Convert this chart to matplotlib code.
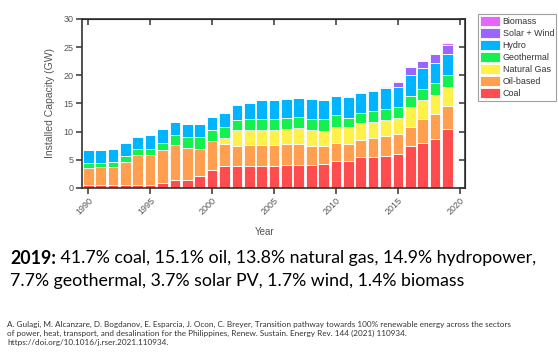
import numpy as np
import matplotlib
matplotlib.use("Agg")
import matplotlib.pyplot as plt

years = list(range(1990, 2020))

# cumulative tops (GW), converted to layer sizes below
coal_top = [0.5, 0.5, 0.5, 0.5, 0.5, 0.5, 0.9, 1.5, 1.5, 2.1,
            3.25, 3.85, 3.85, 3.85, 3.85, 3.85, 4.1, 4.15, 4.15, 4.3,
            4.8, 4.85, 5.5, 5.5, 5.7, 5.95, 7.4, 7.95, 8.75, 10.5]
oil_top = [3.5, 3.7, 3.7, 4.6, 5.8, 5.9, 6.7, 7.55, 7.1, 7.0,
           8.3, 7.85, 7.5, 7.55, 7.6, 7.6, 7.75, 7.8, 7.5, 7.5,
           7.95, 7.85, 8.55, 8.9, 9.2, 9.5, 10.9, 12.15, 13.1, 14.5]
gas_top = [3.5, 3.7, 3.7, 4.6, 5.8, 5.9, 6.7, 7.55, 7.1, 7.0,
           8.3, 8.95, 10.2, 10.2, 10.3, 10.3, 10.5, 10.6, 10.2, 10.15,
           10.85, 10.75, 11.5, 11.75, 12.0, 12.4, 14.35, 15.55, 16.5, 18.0]
geo_top = [4.4, 4.5, 4.6, 5.6, 6.85, 7.0, 8.0, 9.45, 9.0, 9.0,
           10.2, 10.8, 12.1, 12.2, 12.3, 12.3, 12.45, 12.6, 12.3, 12.15,
           12.9, 12.5, 13.3, 13.6, 14.0, 14.35, 16.35, 17.55, 18.55, 20.05]
hydro_top = [6.7, 6.8, 7.0, 7.9, 9.1, 9.4, 10.45, 11.75, 11.4, 11.3,
             12.6, 13.35, 14.7, 15.05, 15.65, 15.65, 15.85, 15.95, 15.7, 15.65,
             16.35, 16.1, 16.9, 17.25, 17.65, 17.9, 20.0, 21.2, 22.2, 23.8]
sw_top = [6.7, 6.8, 7.0, 7.9, 9.1, 9.4, 10.45, 11.75, 11.4, 11.3,
          12.6, 13.35, 14.7, 15.05, 15.65, 15.65, 15.85, 15.95, 15.7, 15.65,
          16.35, 16.1, 17.0, 17.35, 18.0, 18.8, 21.4, 22.6, 23.7, 25.35]
bio_top = [6.7, 6.8, 7.0, 7.9, 9.1, 9.4, 10.45, 11.75, 11.4, 11.3,
           12.6, 13.35, 14.7, 15.05, 15.65, 15.65, 15.85, 15.95, 15.7, 15.65,
           16.35, 16.1, 17.05, 17.4, 18.1, 18.9, 21.5, 22.75, 23.85, 25.7]

labels = ["Coal", "Oil-based", "Natural Gas", "Geothermal", "Hydro",
          "Solar + Wind", "Biomass"]
colors = ["#ff4d4f", "#ff9f4f", "#fff04a", "#14f04e", "#00b4ff",
          "#9966ff", "#e566ff"]

tops = np.array([coal_top, oil_top, gas_top, geo_top, hydro_top, sw_top, bio_top])
layers = np.diff(np.vstack([np.zeros(len(years)), tops]), axis=0)

fig = plt.figure(figsize=(5.58, 3.56), dpi=100)
ax = fig.add_axes([0.147, 0.472, 0.686, 0.475])

bottom = np.zeros(len(years))
handles = []
for lab, col, vals in zip(labels, colors, layers):
    b = ax.bar(years, vals, bottom=bottom, width=0.86, color=col,
               edgecolor="white", linewidth=0.6, label=lab)
    handles.append(b)
    bottom += vals

ax.set_xlim(1989.5, 2020.4)
ax.set_ylim(0, 30)
ax.set_yticks(range(0, 31, 5))
ax.set_xticks(range(1990, 2021, 5))
tick_font = dict(family="Liberation Sans", size=6.5, color="#555555")
ax.set_yticklabels([str(v) for v in range(0, 31, 5)], **tick_font)
ax.set_xticklabels([str(v) for v in range(1990, 2021, 5)], rotation=45,
                   ha="right", rotation_mode="anchor", **tick_font)
ax.tick_params(direction="out", length=4, width=1.1, color="#333333", pad=2)
for s in ax.spines.values():
    s.set_linewidth(1.2)
    s.set_color("#333333")

# mirrored ticks on top and right, pointing inward
top = ax.secondary_xaxis("top")
top.set_xticks(range(1990, 2021, 5))
top.tick_params(direction="in", length=4, width=1.1, color="#333333", labeltop=False)
right = ax.secondary_yaxis("right")
right.set_yticks(range(0, 31, 5))
right.tick_params(direction="in", length=4, width=1.1, color="#333333", labelright=False)

ax.set_ylabel("Installed Capacity (GW)", family="Liberation Sans", size=7.5,
              color="#555555", labelpad=6)
fig.text(0.475, 1 - 232 / 356, "Year", family="Liberation Sans", size=7,
         color="#555555", ha="center", va="center")

leg = fig.legend(handles[::-1], labels[::-1], loc="upper left",
                 bbox_to_anchor=(0.857, 0.962), fontsize=6.4, frameon=True,
                 fancybox=False, edgecolor="#888888", handlelength=2.2,
                 handleheight=1.4, labelspacing=0.2, borderpad=0.25,
                 handletextpad=0.3, borderaxespad=0)
leg.get_frame().set_linewidth(0.8)
for t in leg.get_texts():
    t.set_family("Liberation Sans")
    t.set_color("#333333")

# summary text
body_font = "Lato"
fs = 12.8
y1 = 1 - 258 / 356
lead = fig.text(10 / 558, y1, "2019:", size=fs, va="center",
                family=body_font, weight="bold", color="black")
fig.canvas.draw()
bb = lead.get_window_extent().transformed(fig.transFigure.inverted())
fig.text(bb.x1, y1,
         " 41.7% coal, 15.1% oil, 13.8% natural gas, 14.9% hydropower,",
         size=fs, va="center", family=body_font)
fig.text(10 / 558, 1 - 281 / 356,
         "7.7% geothermal, 3.7% solar PV, 1.7% wind, 1.4% biomass",
         size=fs, va="center", family=body_font)

cite = ("A. Gulagi, M. Alcanzare, D. Bogdanov, E. Esparcia, J. Ocon, C. Breyer, "
        "Transition pathway towards 100% renewable energy across the sectors\n"
        "of power, heat, transport, and desalination for the Philippines, "
        "Renew. Sustain. Energy Rev. 144 (2021) 110934.\n"
        "https://doi.org/10.1016/j.rser.2021.110934.")
fig.text(7 / 558, 1 - 321 / 356, cite, size=5.85, va="top", family=body_font,
         color="#333333", linespacing=1.3)

fig.savefig("out.png", dpi=100)
